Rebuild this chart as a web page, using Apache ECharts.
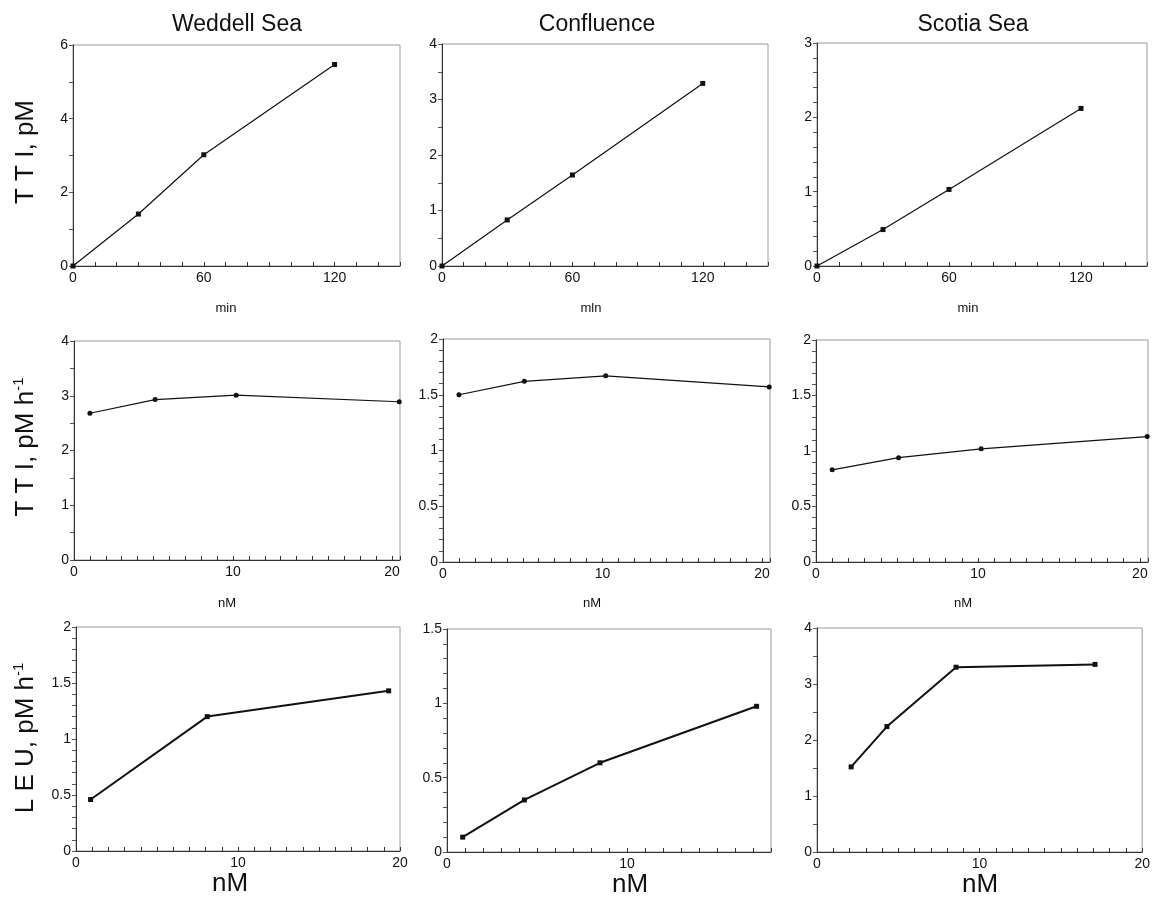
<!DOCTYPE html>
<html>
<head>
<meta charset="utf-8">
<script src="https://cdn.jsdelivr.net/npm/echarts@6/dist/echarts.min.js"></script>
<style>
html,body{margin:0;padding:0;background:#fff;}
#c{width:1153px;height:900px;}
</style>
</head>
<body>
<div id="c"></div>
<script>
// ---- data ----
const columnTitles = ['Weddell Sea', 'Confluence', 'Scotia Sea'];
const rowYNames = ['T T I, pM', 'T T I, pM h', 'L E U, pM h'];

const topX = [0, 30, 60, 120];
const weddellTop = [0, 1.41, 3.02, 5.47];
const confluenceTop = [0, 0.83, 1.64, 3.29];
const scotiaTop = [0, 0.49, 1.03, 2.12];

const midX = [1, 5.1, 10.2, 20.45];
const weddellMid = [2.68, 2.93, 3.01, 2.89];
const confluenceMid = [1.5, 1.62, 1.67, 1.57];
const scotiaMid = [0.83, 0.94, 1.02, 1.13];

const weddellBotX = [0.9, 8.1, 19.3];
const weddellBot = [0.46, 1.2, 1.43];
const confluenceBotX = [0.87, 4.3, 8.5, 17.2];
const confluenceBot = [0.1, 0.35, 0.6, 0.98];
const scotiaBotX = [2.1, 4.3, 8.55, 17.1];
const scotiaBot = [1.52, 2.24, 3.3, 3.35];

// ---- layout ----
const grids = [
  {left: 73, top: 45, width: 327, height: 221},
  {left: 442, top: 44, width: 326, height: 222},
  {left: 817, top: 43, width: 330, height: 223},
  {left: 74, top: 341, width: 326, height: 219},
  {left: 443, top: 339, width: 327, height: 223},
  {left: 816, top: 340, width: 332, height: 222},
  {left: 76, top: 627, width: 324, height: 224},
  {left: 447, top: 629, width: 324, height: 223},
  {left: 817, top: 628, width: 329, height: 224}
];

const FONT = '"Liberation Sans", Arial, Helvetica, sans-serif';

function labelEvery(step) {
  return function (v) {
    const r = v / step;
    if (Math.abs(r - Math.round(r)) < 1e-6) {
      return String(Math.round(v * 100) / 100);
    }
    return '';
  };
}

// axis specs: [max, tickStep, labelStep]
const xSpecs = [
  [150, 10, 60], [150, 10, 60], [150, 10, 60],
  [20.5, 1, 10], [20.5, 1, 10], [20.5, 1, 10],
  [20, 1, 10], [18, 1, 10], [20, 1, 10]
];
const ySpecs = [
  [6, 1, 2], [4, 0.5, 1], [3, 0.2, 1],
  [4, 0.5, 1], [2, 0.1, 0.5], [2, 0.1, 0.5],
  [2, 0.1, 0.5], [1.5, 0.1, 0.5], [4, 0.5, 1]
];

const seriesData = [
  [topX, weddellTop], [topX, confluenceTop], [topX, scotiaTop],
  [midX, weddellMid], [midX, confluenceMid], [midX, scotiaMid],
  [weddellBotX, weddellBot], [confluenceBotX, confluenceBot], [scotiaBotX, scotiaBot]
];

const option = {
  backgroundColor: '#fff',
  animation: false,
  grid: grids.map(g => Object.assign({show: true, borderColor: '#9a9a9a', borderWidth: 1, backgroundColor: 'transparent'}, g)),
  xAxis: xSpecs.map((s, i) => ({
    type: 'value', gridIndex: i, min: 0, max: s[0], interval: s[1],
    splitLine: {show: false},
    axisLine: {show: true, onZero: false, lineStyle: {color: '#333', width: 1}},
    axisTick: {show: true, inside: true, length: 4, lineStyle: {color: '#333'}},
    axisLabel: {show: true, margin: 5, fontFamily: FONT, fontSize: 14, color: '#111', formatter: labelEvery(s[2]), showMaxLabel: true}
  })),
  yAxis: ySpecs.map((s, i) => ({
    type: 'value', gridIndex: i, min: 0, max: s[0], interval: s[1],
    splitLine: {show: false},
    axisLine: {show: true, onZero: false, lineStyle: {color: '#333', width: 1}},
    axisTick: {show: true, inside: false, length: 4, lineStyle: {color: '#555'}},
    axisLabel: {show: true, margin: 5, fontFamily: FONT, fontSize: 14, color: '#111', formatter: labelEvery(s[2])}
  })),
  series: seriesData.map((d, i) => ({
    type: 'line', xAxisIndex: i, yAxisIndex: i,
    data: d[0].map((x, j) => [x, d[1][j]]),
    symbol: (i >= 3 && i < 6) ? 'circle' : 'rect',
    symbolSize: (i >= 3 && i < 6) ? 5 : 5,
    lineStyle: {color: '#111', width: i >= 6 ? 2 : 1.2},
    itemStyle: {color: '#111'},
    silent: true
  })),
  graphic: [
    {type: 'text', x: 237, y: 25, style: {text: columnTitles[0], font: '23px ' + FONT, fill: '#111', align: 'center', verticalAlign: 'middle'}},
    {type: 'text', x: 597, y: 25, style: {text: columnTitles[1], font: '23px ' + FONT, fill: '#111', align: 'center', verticalAlign: 'middle'}},
    {type: 'text', x: 973, y: 25, style: {text: columnTitles[2], font: '23px ' + FONT, fill: '#111', align: 'center', verticalAlign: 'middle'}},
    // x-axis names
    {type: 'text', x: 226, y: 308, style: {text: 'min', font: '13px ' + FONT, fill: '#111', align: 'center', verticalAlign: 'middle'}},
    {type: 'text', x: 591, y: 308, style: {text: 'mln', font: '13px ' + FONT, fill: '#111', align: 'center', verticalAlign: 'middle'}},
    {type: 'text', x: 968, y: 308, style: {text: 'min', font: '13px ' + FONT, fill: '#111', align: 'center', verticalAlign: 'middle'}},
    {type: 'text', x: 227, y: 603, style: {text: 'nM', font: '13px ' + FONT, fill: '#111', align: 'center', verticalAlign: 'middle'}},
    {type: 'text', x: 592, y: 603, style: {text: 'nM', font: '13px ' + FONT, fill: '#111', align: 'center', verticalAlign: 'middle'}},
    {type: 'text', x: 963, y: 603, style: {text: 'nM', font: '13px ' + FONT, fill: '#111', align: 'center', verticalAlign: 'middle'}},
    {type: 'text', x: 230, y: 884, style: {text: 'nM', font: '26px ' + FONT, fill: '#111', align: 'center', verticalAlign: 'middle'}},
    {type: 'text', x: 630, y: 885, style: {text: 'nM', font: '26px ' + FONT, fill: '#111', align: 'center', verticalAlign: 'middle'}},
    {type: 'text', x: 980, y: 885, style: {text: 'nM', font: '26px ' + FONT, fill: '#111', align: 'center', verticalAlign: 'middle'}},
    // y-axis names
    {type: 'text', x: 26, y: 152, rotation: Math.PI / 2,
      style: {text: rowYNames[0], font: '26px ' + FONT, fill: '#111', align: 'center', verticalAlign: 'middle'}},
    {type: 'text', x: 26, y: 447, rotation: Math.PI / 2,
      style: {text: '{a|' + rowYNames[1] + '}{s|-1}', align: 'center', verticalAlign: 'middle',
        rich: {a: {fontFamily: FONT, fontSize: 26, fill: '#111', lineHeight: 30},
               s: {fontFamily: FONT, fontSize: 15, fill: '#111', verticalAlign: 'top', lineHeight: 30}}}},
    {type: 'text', x: 26, y: 738, rotation: Math.PI / 2,
      style: {text: '{a|' + rowYNames[2] + '}{s|-1}', align: 'center', verticalAlign: 'middle',
        rich: {a: {fontFamily: FONT, fontSize: 26, fill: '#111', lineHeight: 30},
               s: {fontFamily: FONT, fontSize: 15, fill: '#111', verticalAlign: 'top', lineHeight: 30}}}}
  ]
};

const chart = echarts.init(document.getElementById('c'), null, {renderer: 'canvas'});
chart.setOption(option);
</script>
</body>
</html>
